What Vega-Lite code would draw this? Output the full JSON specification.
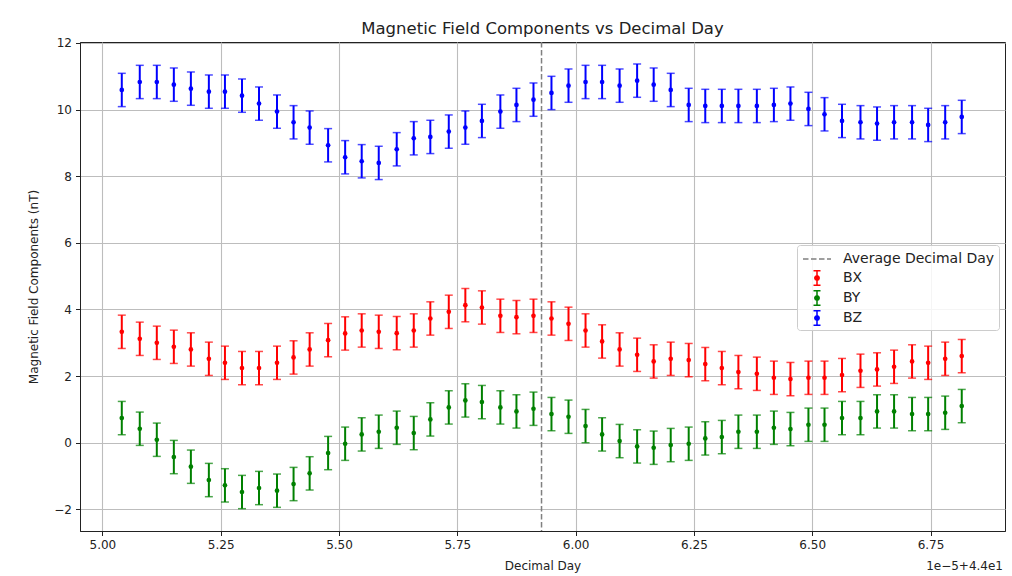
{
  "$schema": "https://vega.github.io/schema/vega-lite/v6.json",
  "width": 925,
  "height": 489,
  "autosize": {"type": "none"},
  "padding": {"left": 80, "top": 42, "right": 7, "bottom": 45},
  "background": "white",
  "config": {
    "font": "DejaVu Sans",
    "view": {"stroke": "#222", "strokeWidth": 1},
    "axis": {
      "domainColor": "#222",
      "tickColor": "#222",
      "tickSize": 4.5,
      "labelColor": "#222",
      "labelFontSize": 12,
      "titleFontSize": 12,
      "titleFontWeight": "normal",
      "titleColor": "#222",
      "gridColor": "#bdbdbd",
      "gridWidth": 1.1,
      "labelPadding": 4
    },
    "title": {"fontSize": 16.5, "fontWeight": "normal", "color": "#222", "offset": -1}
  },
  "title": {"text": "Magnetic Field Components vs Decimal Day"},
  "datasets": {
    "pts": [
      {"x":5.041,"s":"BX","v":3.33,"e":0.5},{"x":5.079,"s":"BX","v":3.12,"e":0.5},{"x":5.115,"s":"BX","v":3.00,"e":0.5},{"x":5.151,"s":"BX","v":2.88,"e":0.5},{"x":5.187,"s":"BX","v":2.80,"e":0.5},
      {"x":5.225,"s":"BX","v":2.52,"e":0.5},{"x":5.259,"s":"BX","v":2.40,"e":0.5},{"x":5.295,"s":"BX","v":2.24,"e":0.5},{"x":5.331,"s":"BX","v":2.24,"e":0.5},{"x":5.369,"s":"BX","v":2.40,"e":0.5},
      {"x":5.404,"s":"BX","v":2.56,"e":0.5},{"x":5.438,"s":"BX","v":2.80,"e":0.5},{"x":5.477,"s":"BX","v":3.08,"e":0.5},{"x":5.513,"s":"BX","v":3.28,"e":0.5},{"x":5.548,"s":"BX","v":3.37,"e":0.5},
      {"x":5.584,"s":"BX","v":3.33,"e":0.5},{"x":5.622,"s":"BX","v":3.29,"e":0.5},{"x":5.658,"s":"BX","v":3.37,"e":0.5},{"x":5.693,"s":"BX","v":3.73,"e":0.5},{"x":5.732,"s":"BX","v":3.93,"e":0.5},
      {"x":5.767,"s":"BX","v":4.13,"e":0.5},{"x":5.802,"s":"BX","v":4.06,"e":0.5},{"x":5.841,"s":"BX","v":3.81,"e":0.5},{"x":5.875,"s":"BX","v":3.77,"e":0.5},{"x":5.911,"s":"BX","v":3.81,"e":0.5},
      {"x":5.949,"s":"BX","v":3.73,"e":0.5},{"x":5.985,"s":"BX","v":3.57,"e":0.5},{"x":6.021,"s":"BX","v":3.37,"e":0.5},{"x":6.056,"s":"BX","v":3.04,"e":0.5},{"x":6.093,"s":"BX","v":2.80,"e":0.5},
      {"x":6.130,"s":"BX","v":2.64,"e":0.5},{"x":6.165,"s":"BX","v":2.44,"e":0.5},{"x":6.201,"s":"BX","v":2.52,"e":0.5},{"x":6.239,"s":"BX","v":2.48,"e":0.5},{"x":6.274,"s":"BX","v":2.36,"e":0.5},
      {"x":6.309,"s":"BX","v":2.24,"e":0.5},{"x":6.344,"s":"BX","v":2.12,"e":0.5},{"x":6.383,"s":"BX","v":2.07,"e":0.5},{"x":6.419,"s":"BX","v":1.95,"e":0.5},{"x":6.454,"s":"BX","v":1.91,"e":0.5},
      {"x":6.492,"s":"BX","v":1.95,"e":0.5},{"x":6.526,"s":"BX","v":1.95,"e":0.5},{"x":6.563,"s":"BX","v":2.03,"e":0.5},{"x":6.602,"s":"BX","v":2.16,"e":0.5},{"x":6.637,"s":"BX","v":2.20,"e":0.5},
      {"x":6.673,"s":"BX","v":2.28,"e":0.5},{"x":6.711,"s":"BX","v":2.44,"e":0.5},{"x":6.745,"s":"BX","v":2.40,"e":0.5},{"x":6.781,"s":"BX","v":2.52,"e":0.5},{"x":6.816,"s":"BX","v":2.60,"e":0.5},
      {"x":5.041,"s":"BY","v":0.74,"e":0.5},{"x":5.079,"s":"BY","v":0.42,"e":0.5},{"x":5.115,"s":"BY","v":0.09,"e":0.5},{"x":5.151,"s":"BY","v":-0.43,"e":0.5},{"x":5.187,"s":"BY","v":-0.72,"e":0.5},
      {"x":5.225,"s":"BY","v":-1.12,"e":0.5},{"x":5.259,"s":"BY","v":-1.28,"e":0.5},{"x":5.295,"s":"BY","v":-1.48,"e":0.5},{"x":5.331,"s":"BY","v":-1.36,"e":0.5},{"x":5.369,"s":"BY","v":-1.44,"e":0.5},
      {"x":5.404,"s":"BY","v":-1.24,"e":0.5},{"x":5.438,"s":"BY","v":-0.92,"e":0.5},{"x":5.477,"s":"BY","v":-0.31,"e":0.5},{"x":5.513,"s":"BY","v":-0.03,"e":0.5},{"x":5.548,"s":"BY","v":0.25,"e":0.5},
      {"x":5.584,"s":"BY","v":0.33,"e":0.5},{"x":5.622,"s":"BY","v":0.45,"e":0.5},{"x":5.658,"s":"BY","v":0.29,"e":0.5},{"x":5.693,"s":"BY","v":0.70,"e":0.5},{"x":5.732,"s":"BY","v":1.06,"e":0.5},
      {"x":5.767,"s":"BY","v":1.27,"e":0.5},{"x":5.802,"s":"BY","v":1.22,"e":0.5},{"x":5.841,"s":"BY","v":1.06,"e":0.5},{"x":5.875,"s":"BY","v":0.94,"e":0.5},{"x":5.911,"s":"BY","v":1.02,"e":0.5},
      {"x":5.949,"s":"BY","v":0.86,"e":0.5},{"x":5.985,"s":"BY","v":0.78,"e":0.5},{"x":6.021,"s":"BY","v":0.50,"e":0.5},{"x":6.056,"s":"BY","v":0.25,"e":0.5},{"x":6.093,"s":"BY","v":0.05,"e":0.5},
      {"x":6.130,"s":"BY","v":-0.11,"e":0.5},{"x":6.165,"s":"BY","v":-0.15,"e":0.5},{"x":6.201,"s":"BY","v":-0.07,"e":0.5},{"x":6.239,"s":"BY","v":-0.03,"e":0.5},{"x":6.274,"s":"BY","v":0.13,"e":0.5},
      {"x":6.309,"s":"BY","v":0.17,"e":0.5},{"x":6.344,"s":"BY","v":0.33,"e":0.5},{"x":6.383,"s":"BY","v":0.33,"e":0.5},{"x":6.419,"s":"BY","v":0.45,"e":0.5},{"x":6.454,"s":"BY","v":0.41,"e":0.5},
      {"x":6.492,"s":"BY","v":0.54,"e":0.5},{"x":6.526,"s":"BY","v":0.54,"e":0.5},{"x":6.563,"s":"BY","v":0.74,"e":0.5},{"x":6.602,"s":"BY","v":0.74,"e":0.5},{"x":6.637,"s":"BY","v":0.94,"e":0.5},
      {"x":6.673,"s":"BY","v":0.94,"e":0.5},{"x":6.711,"s":"BY","v":0.86,"e":0.5},{"x":6.745,"s":"BY","v":0.86,"e":0.5},{"x":6.781,"s":"BY","v":0.90,"e":0.5},{"x":6.816,"s":"BY","v":1.10,"e":0.5},
      {"x":5.041,"s":"BZ","v":10.59,"e":0.5},{"x":5.079,"s":"BZ","v":10.83,"e":0.5},{"x":5.115,"s":"BZ","v":10.83,"e":0.5},{"x":5.151,"s":"BZ","v":10.75,"e":0.5},{"x":5.187,"s":"BZ","v":10.63,"e":0.5},
      {"x":5.225,"s":"BZ","v":10.54,"e":0.5},{"x":5.259,"s":"BZ","v":10.54,"e":0.5},{"x":5.295,"s":"BZ","v":10.42,"e":0.5},{"x":5.331,"s":"BZ","v":10.18,"e":0.5},{"x":5.369,"s":"BZ","v":9.94,"e":0.5},
      {"x":5.404,"s":"BZ","v":9.62,"e":0.5},{"x":5.438,"s":"BZ","v":9.46,"e":0.5},{"x":5.477,"s":"BZ","v":8.93,"e":0.5},{"x":5.513,"s":"BZ","v":8.57,"e":0.5},{"x":5.548,"s":"BZ","v":8.45,"e":0.5},
      {"x":5.584,"s":"BZ","v":8.40,"e":0.5},{"x":5.622,"s":"BZ","v":8.81,"e":0.5},{"x":5.658,"s":"BZ","v":9.14,"e":0.5},{"x":5.693,"s":"BZ","v":9.18,"e":0.5},{"x":5.732,"s":"BZ","v":9.34,"e":0.5},
      {"x":5.767,"s":"BZ","v":9.46,"e":0.5},{"x":5.802,"s":"BZ","v":9.66,"e":0.5},{"x":5.841,"s":"BZ","v":9.94,"e":0.5},{"x":5.875,"s":"BZ","v":10.14,"e":0.5},{"x":5.911,"s":"BZ","v":10.30,"e":0.5},
      {"x":5.949,"s":"BZ","v":10.50,"e":0.5},{"x":5.985,"s":"BZ","v":10.72,"e":0.5},{"x":6.021,"s":"BZ","v":10.83,"e":0.5},{"x":6.056,"s":"BZ","v":10.83,"e":0.5},{"x":6.093,"s":"BZ","v":10.72,"e":0.5},
      {"x":6.130,"s":"BZ","v":10.87,"e":0.5},{"x":6.165,"s":"BZ","v":10.75,"e":0.5},{"x":6.201,"s":"BZ","v":10.59,"e":0.5},{"x":6.239,"s":"BZ","v":10.14,"e":0.5},{"x":6.274,"s":"BZ","v":10.11,"e":0.5},
      {"x":6.309,"s":"BZ","v":10.11,"e":0.5},{"x":6.344,"s":"BZ","v":10.11,"e":0.5},{"x":6.383,"s":"BZ","v":10.11,"e":0.5},{"x":6.419,"s":"BZ","v":10.14,"e":0.5},{"x":6.454,"s":"BZ","v":10.18,"e":0.5},
      {"x":6.492,"s":"BZ","v":10.02,"e":0.5},{"x":6.526,"s":"BZ","v":9.86,"e":0.5},{"x":6.563,"s":"BZ","v":9.66,"e":0.5},{"x":6.602,"s":"BZ","v":9.62,"e":0.5},{"x":6.637,"s":"BZ","v":9.58,"e":0.5},
      {"x":6.673,"s":"BZ","v":9.62,"e":0.5},{"x":6.711,"s":"BZ","v":9.62,"e":0.5},{"x":6.745,"s":"BZ","v":9.54,"e":0.5},{"x":6.781,"s":"BZ","v":9.62,"e":0.5},{"x":6.816,"s":"BZ","v":9.78,"e":0.5}
    ],
    "avg": [{"x": 5.928, "s": "Average Decimal Day"}],
    "offset": [{"t": "1e\u22125+4.4e1"}]
  },
  "layer": [
    {
      "data": {"name": "pts"},
      "encoding": {
        "x": {
          "field": "x", "type": "quantitative",
          "scale": {"domain": [4.9527, 6.9074], "nice": false, "zero": false},
          "axis": {"title": "Decimal Day", "values": [5, 5.25, 5.5, 5.75, 6, 6.25, 6.5, 6.75], "format": ".2f", "titlePadding": 10}
        },
        "y": {
          "field": "v", "type": "quantitative",
          "scale": {"domain": [-2.65, 12.03], "nice": false, "zero": false},
          "axis": {"title": "Magnetic Field Components (nT)", "values": [-2, 0, 2, 4, 6, 8, 10, 12], "format": "d", "titlePadding": 13}
        },
        "color": {
          "field": "s", "type": "nominal",
          "scale": {"domain": ["Average Decimal Day", "BX", "BY", "BZ"], "range": ["#808080", "#ff0000", "#008000", "#0000ff"]},
          "legend": {
            "title": null,
            "orient": "none",
            "legendX": 717,
            "legendY": 203,
            "padding": 4,
            "fillColor": "rgba(255,255,255,0.85)",
            "strokeColor": "#cccccc",
            "cornerRadius": 3,
            "symbolSize": 324,
            "symbolOffset": 6,
            "labelOffset": 16,
            "rowPadding": 2,
            "labelFontSize": 14,
            "labelColor": "#222",
            "symbolStrokeWidth": 1.5,
            "encode": {
              "symbols": {
                "update": {
                  "shape": {"signal": "datum.value === 'Average Decimal Day' ? 'M-1.556,0H1.556' : 'M-0.39,-0.8H0.39M0,-0.8V0.8M-0.39,0.8H0.39M0.25,0L0.177,0.177L0,0.25L-0.177,0.177L-0.25,0L-0.177,-0.177L0,-0.25L0.177,-0.177Z'"},
                  "strokeDash": {"signal": "datum.value === 'Average Decimal Day' ? [5.5, 2.5] : [1, 0]"},
                  "stroke": {"signal": "scale('color', datum.value)"},
                  "fill": {"signal": "scale('color', datum.value)"},
                  "strokeWidth": {"value": 1.5},
                  "strokeJoin": {"value": "round"},
                  "opacity": {"value": 1}
                }
              }
            }
          }
        }
      },
      "layer": [
        {
          "mark": {"type": "errorbar", "ticks": {"size": 8, "thickness": 1.5}, "rule": {"strokeWidth": 2}},
          "encoding": {"yError": {"field": "e"}}
        },
        {
          "mark": {"type": "point", "filled": true, "size": 22, "opacity": 1, "shape": "circle"}
        }
      ]
    },
    {
      "data": {"name": "avg"},
      "mark": {"type": "rule", "strokeDash": [5.5, 2.5], "strokeWidth": 1.5},
      "encoding": {
        "x": {"field": "x", "type": "quantitative"},
        "color": {"field": "s", "type": "nominal"}
      }
    },
    {
      "data": {"name": "offset"},
      "mark": {"type": "text", "align": "right", "baseline": "top", "dy": 30, "dx": -2, "fontSize": 12, "color": "#222"},
      "encoding": {
        "x": {"datum": 6.9074, "type": "quantitative"},
        "y": {"datum": -2.65, "type": "quantitative"},
        "text": {"field": "t"}
      }
    }
  ]
}
